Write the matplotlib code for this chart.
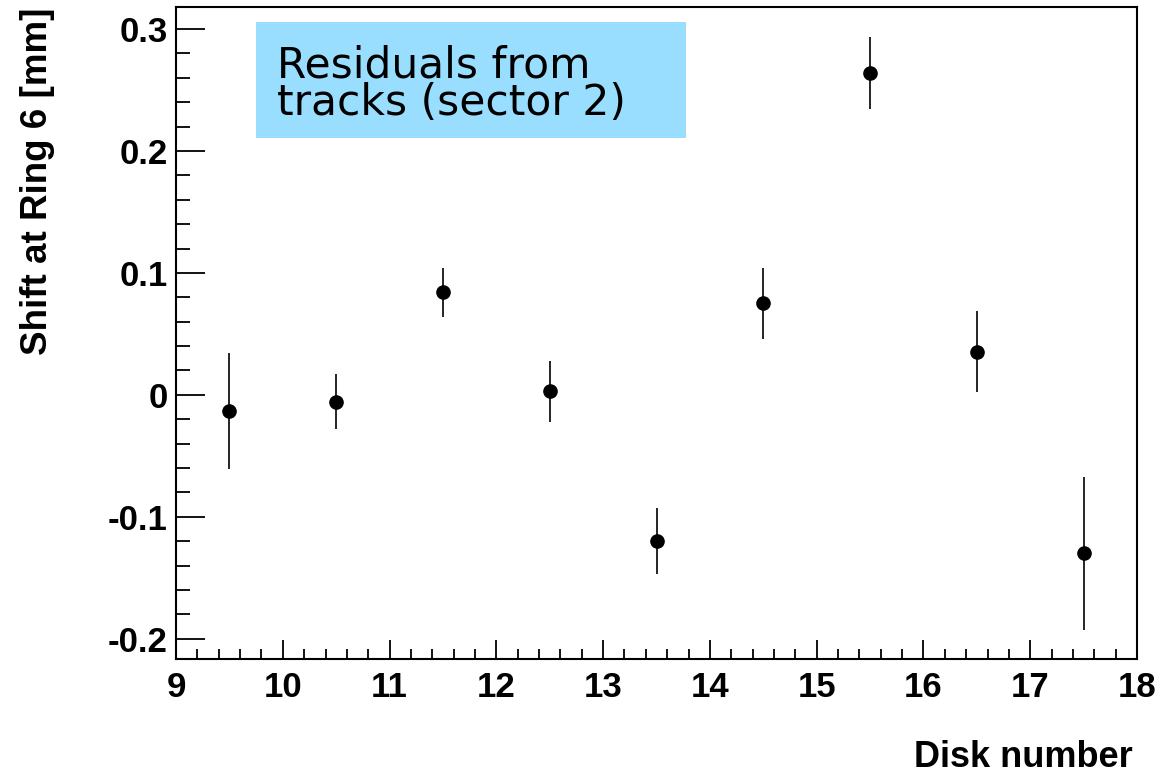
import numpy as np
import matplotlib.pyplot as plt
from matplotlib.patches import Rectangle
from matplotlib.ticker import MultipleLocator, FuncFormatter

# residuals per disk, sector 2
disk = [9.5, 10.5, 11.5, 12.5, 13.5, 14.5, 15.5, 16.5, 17.5]
shift = [-0.0135, -0.0055, 0.084, 0.003, -0.120, 0.075, 0.2635, 0.0355, -0.130]
shift_err = [0.0475, 0.0225, 0.020, 0.025, 0.027, 0.029, 0.0295, 0.0335, 0.0625]

box_lines = ["Residuals from", "tracks (sector 2)"]

fig = plt.figure(figsize=(11.58, 7.76), dpi=100)
ax = fig.add_axes([0.152, 0.1508, 0.8299, 0.8402])

ax.errorbar(disk, shift, yerr=shift_err, fmt='o', color='black',
            markersize=9.5, elinewidth=1.2, capsize=0)

ax.set_xlim(9, 18)
ax.set_ylim(-0.2165, 0.318)

ax.xaxis.set_major_locator(MultipleLocator(1))
ax.xaxis.set_minor_locator(MultipleLocator(0.2))
ax.yaxis.set_major_locator(MultipleLocator(0.1))
ax.yaxis.set_minor_locator(MultipleLocator(0.02))


def fmt(v, pos):
    s = '%g' % round(v, 6)
    return '0' if s in ('-0', '0') else s


ax.yaxis.set_major_formatter(FuncFormatter(fmt))

ax.tick_params(which='both', direction='in', top=False, right=False,
               width=1.3, labelsize=25)
ax.tick_params(axis='x', which='major', length=14, pad=9)
ax.tick_params(axis='x', which='minor', length=7)
ax.tick_params(axis='y', which='major', length=21, pad=6)
ax.tick_params(axis='y', which='minor', length=10)
for lab in ax.get_xticklabels() + ax.get_yticklabels():
    lab.set_fontfamily('Liberation Sans')
    lab.set_fontweight('bold')

for sp in ax.spines.values():
    sp.set_linewidth(1.5)

fig.text(0.032, 0.767, "Shift at Ring 6 [mm]", rotation=90, ha='center', va='center',
         fontsize=26.5, fontweight='bold', family='Liberation Sans')
fig.text(0.978, 0.024, "Disk number", ha='right', va='center',
         fontsize=26, fontweight='bold', family='Liberation Sans')

ax.add_patch(Rectangle((0.0832, 0.799), 0.4475, 0.178, transform=ax.transAxes,
                       facecolor='#99ddff', edgecolor='none', zorder=3))
ax.text(0.105, 0.8926, box_lines[0], transform=ax.transAxes, va='baseline',
        fontsize=30.5, family='DejaVu Sans', zorder=4)
ax.text(0.105, 0.834, box_lines[1], transform=ax.transAxes, va='baseline',
        fontsize=30.5, family='DejaVu Sans', zorder=4)

fig.savefig('out.png', dpi=100)
